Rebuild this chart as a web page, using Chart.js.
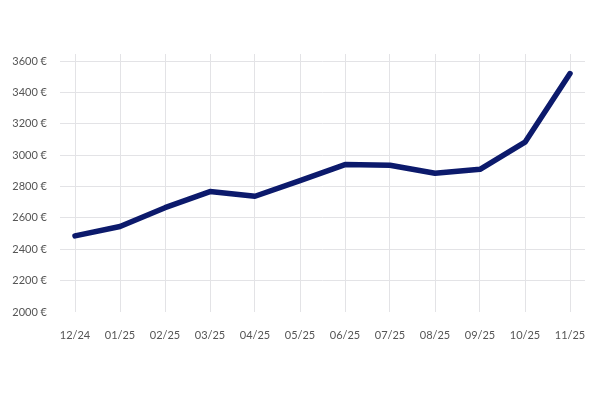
<!DOCTYPE html>
<html>
<head>
<meta charset="utf-8">
<script src="https://cdn.jsdelivr.net/npm/chart.js@4/dist/chart.umd.min.js"></script>
<style>
html,body{margin:0;padding:0;background:#fff;}
#c{display:block;}
</style>
</head>
<body>
<canvas id="c" width="600" height="400"></canvas>
<script>
const categories = ["12/24","01/25","02/25","03/25","04/25","05/25","06/25","07/25","08/25","09/25","10/25","11/25"];
const prices = [2485, 2545, 2665, 2768, 2738, 2838, 2940, 2936, 2885, 2910, 3083, 3520];
const yTicks = [2000, 2200, 2400, 2600, 2800, 3000, 3200, 3400, 3600];

const gridColor = '#e3e3e6';
const tickFont = {family: 'Lato', size: 11};

new Chart(document.getElementById('c'), {
  type: 'line',
  data: {
    datasets: [{
      data: categories.map((c, i) => ({x: i, y: prices[i]})),
      borderColor: '#0c1a6c',
      borderWidth: 5.5,
      pointRadius: 0,
      tension: 0,
      borderCapStyle: 'round',
      borderJoinStyle: 'round',
      fill: false
    }]
  },
  options: {
    responsive: false,
    animation: false,
    layout: {padding: {top: 54, right: 15, bottom: 48, left: 0}},
    plugins: {legend: {display: false}, tooltip: {enabled: false}},
    scales: {
      x: {
        type: 'linear',
        min: -1/3,
        max: categories.length - 1 + 1/3,
        afterBuildTicks: s => { s.ticks = categories.map((c, i) => ({value: i})); },
        afterFit: s => { s.height = 40; s.paddingRight = 0; s.paddingLeft = 0; },
        grid: {color: gridColor, drawTicks: false},
        border: {display: false},
        ticks: {
          callback: v => categories[v],
          font: tickFont,
          color: '#555',
          padding: 17,
          maxRotation: 0,
          autoSkip: false
        }
      },
      y: {
        min: 2000,
        max: 3645,
        afterBuildTicks: s => { s.ticks = yTicks.map(v => ({value: v})); },
        afterFit: s => { s.width = 60; s.paddingTop = 0; s.paddingBottom = 0; },
        grid: {
          color: ctx => (ctx.tick && ctx.tick.value === 2000) ? 'rgba(0,0,0,0)' : gridColor,
          drawTicks: false
        },
        border: {display: false},
        ticks: {
          callback: v => v + ' €',
          font: tickFont,
          color: '#555',
          padding: 13
        }
      }
    }
  }
});
</script>
</body>
</html>
